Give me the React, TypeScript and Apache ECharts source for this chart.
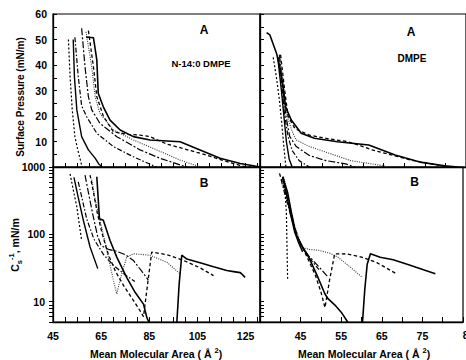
import React, { useEffect, useRef } from "react";
import * as echarts from "echarts";

// ---------- Panel A (surface pressure, mN/m) : N-14:0 DMPE ----------
const pressN14_1 = [[51.4,50],[52.1,35.4],[53.0,22.4],[54.1,11.9],[55.3,6.7],[56.2,3.4],[57.1,0]];
const pressN14_2 = [[53.4,50],[53.9,35.4],[54.9,22.4],[56.9,11.9],[59.7,6.7],[62.5,3.5],[64,1.2],[65.5,0]];
const pressN14_3 = [[54.1,50.9],[55.5,35.4],[56.9,24],[59,19.7],[63.2,13.2],[70.1,8],[78.4,4],[86.7,0.5],[88,0]];
const pressN14_4 = [[56.9,54.4],[58.3,39.3],[59.7,27.6],[61.1,22.4],[64.5,17.1],[71.5,11.9],[81.2,6.7],[89.5,3.4],[99.2,0.4],[101,0]];
const pressN14_5 = [[58.7,53],[61.1,39.3],[62.5,27.6],[64.5,21],[70.1,14.5],[78.4,10.6],[88.1,6.7],[97.8,2.7],[104.8,0.5],[107,0]];
const pressN14_6 = [[59.7,53.5],[61.8,39.3],[63.2,27.6],[65.9,20],[70.1,13.8],[76,12.8],[81.2,12.5],[85.3,11.9],[92.3,9],[106.1,5.4],[119.8,1.4],[124,0.3],[127,0]];
const pressN14_7 = [[58.7,51],[61.8,50.7],[63.2,42],[63.8,28.9],[65.9,23.6],[68.7,18.4],[72.9,14.5],[78.4,11.9],[85.3,10.6],[97.8,9.9],[106.1,6.7],[114.4,3.4],[122.8,1.4],[128.2,0.5],[131,0]];

// ---------- Panel A : DMPE ----------
const pressDMPE_1 = [[38.2,43],[39,35],[39.8,25],[40.4,15],[40.9,6],[41.3,0]];
const pressDMPE_2 = [[39.3,43],[40.2,30],[40.8,20],[41.4,10],[42.1,3],[42.8,0]];
const pressDMPE_3 = [[39.5,43],[40.4,30],[41,20],[41.8,12],[42.8,6.5],[44.5,2.5],[47,0]];
const pressDMPE_4 = [[39.7,44],[40.6,30],[41.3,20],[42.2,12],[43.8,8],[47,4.5],[51,2.5],[55.8,1.2],[58,0]];
const pressDMPE_5 = [[39.8,44],[40.8,30],[41.6,20],[42.8,14],[43.8,10.6],[47,8],[51.8,5.4],[57,2.5],[63.8,0.8],[66,0]];
const pressDMPE_6 = [[40,44],[41,30],[41.8,20],[43.5,15],[47,12.5],[51.8,11],[56,10],[59,8.6],[62.2,6.7],[71.7,2.7],[80,0.2],[82,0]];
const pressDMPE_7 = [[36.6,52.7],[37.4,51.8],[39,44.6],[39.8,39.3],[40.6,31.5],[41.2,23.6],[42.6,18.4],[45,13.2],[48.2,11.3],[53.8,9.9],[61.4,8.6],[67.8,4.7],[74.2,1.8],[79.8,0.5],[83,0]];

// ---------- Panel B (Cs^-1, mN/m, log) : N-14:0 DMPE ----------
const compN14_1 = [[52.1,790],[53.3,480],[54.9,255],[56.9,81]];
const compN14_2 = [[53.7,700],[55.5,350],[57.6,162],[60.4,65],[63.6,31]];
const compN14_3 = [[55.5,600],[57,350],[59,170],[62,85],[66,50],[70,35],[75,25],[79,20]];
const compN14_4 = [[58.3,760],[59.7,420],[61.5,200],[63.5,95],[65,68],[68,60],[71.5,56],[75,50],[78.4,41],[82,28],[84.6,21]];
const compN14_5 = [[61.1,650],[62.5,330],[64.5,162],[66.5,80],[68.7,35],[70.5,18],[71.5,13],[73,22],[75.6,46],[78.4,51.5],[85.3,49],[92.3,38.6],[97.8,25.9]];
const compN14_6 = [[60.4,760],[61.8,420],[63.5,200],[65.5,100],[68,50],[71,28],[74.5,17],[78,11],[81,7.5],[82.6,6],[84,15],[86,54.5],[92.3,50],[99.2,41],[106,32],[111.7,24.4]];
const compN14_7a = [[63.2,716],[64.3,171],[65.9,162],[68.7,81],[71.5,46],[75.6,23],[79.1,13.8],[82.6,9.2],[84,5.8],[85.3,4.6]];
const compN14_7b = [[96.4,4.6],[97.4,18],[98.5,49],[100.6,43],[106.1,38],[111.7,33],[117.2,29],[120,28],[122.8,27],[123.8,25],[124.8,23]];

// ---------- Panel B : DMPE ----------
const compDMPE_1 = [[40.9,620],[41.2,400],[41.5,204],[41.8,22]];
const compDMPE_2 = [[40.6,716],[41.5,400],[42.5,200],[43.5,110],[44.5,75],[45.5,55]];
const compDMPE_3 = [[40.2,650],[41.2,380],[42.5,200],[44,100],[45.5,62],[47.5,42],[49.5,30]];
const compDMPE_4 = [[40.5,700],[41.8,350],[43.5,130],[45,70],[47,48],[49.5,33],[51.8,23]];
const compDMPE_5 = [[40.8,720],[42.2,300],[43.6,130],[45.4,64],[47,60],[49.4,58],[52,53],[54.2,46],[57.4,32],[60.2,23]];
const compDMPE_6 = [[39.8,805],[41.5,380],[43.8,100],[46,55],[48.6,25],[50,14],[51,8.2],[52.2,22],[53.4,51.5],[56.6,51],[60,46],[63.8,38],[68.6,26]];
const compDMPE_7a = [[40.6,716],[41.8,420],[42.8,200],[43.8,102],[45.5,65],[47,46],[49,25],[51,13],[51.8,11],[53.4,9],[55,7],[56.6,5],[57.3,4.5]];
const compDMPE_7b = [[60.2,4.5],[60.8,15],[61.4,36],[62.2,51.5],[64.6,45.7],[67.8,42],[71.8,35],[75.8,29],[78.2,26]];

// ---------- axis ticks / labels ----------
const xLabelsN14 = [45, 65, 85, 105, 125];
const xLabelsDMPE = [45, 55, 65, 75];
const xLabelDMPEEdge = "85";
const yLabelsLog = [10, 100, 1000];
const logMinorTicks = [5, 6, 7, 8, 9, 10, 20, 30, 40, 50, 60, 70, 80, 90, 100, 200, 300, 400, 500, 600, 700, 800, 900, 1000];

const FONT = '"Liberation Sans", Arial, Helvetica, sans-serif';

const STYLES: any[] = [
  { type: [2, 2], width: 1.2, color: "#000" },
  { type: "solid", width: 1.4, color: "#000" },
  { type: [5, 2, 1.5, 2], width: 1.2, color: "#000" },
  { type: [7, 2, 2, 2], width: 1.2, color: "#000" },
  { type: [1, 1.3], width: 1.1, color: "#333" },
  { type: [3.5, 2.5], width: 1.3, color: "#000" },
  { type: "solid", width: 1.6, color: "#000" },
];

function mk(data: number[][], styleIdx: number, axis: number) {
  return {
    type: "line",
    xAxisIndex: axis,
    yAxisIndex: axis,
    data,
    showSymbol: false,
    symbol: "none",
    clip: true,
    silent: true,
    lineStyle: STYLES[styleIdx],
  };
}

const labelStyle = { fontFamily: FONT, fontWeight: "bold", fontSize: 10.5, color: "#000" };
const axisLineStyle = { show: true, lineStyle: { color: "#000", width: 1.3 } };

export default function App() {
  const ref = useRef<HTMLDivElement>(null);
  useEffect(() => {
    if (!ref.current) return;
    const chart = echarts.init(ref.current, null, { renderer: "svg" });
    const gridBase = { show: true, borderColor: "#000", borderWidth: 1.2, backgroundColor: "transparent" };
    const option: any = {
      animation: false,
      backgroundColor: "#fff",
      grid: [
        { ...gridBase, left: 53, top: 14, width: 207, height: 153 },
        { ...gridBase, left: 260, top: 14, width: 208, height: 153 },
        { ...gridBase, left: 53, top: 167, width: 207, height: 155 },
        { ...gridBase, left: 260, top: 167, width: 208, height: 155 },
      ],
      xAxis: [
        {
          type: "value", gridIndex: 0, min: 45, max: 131, interval: 5,
          axisLine: axisLineStyle, splitLine: { show: false },
          axisTick: { show: true, inside: true, length: 4, lineStyle: { color: "#000" } },
          axisLabel: { show: false },
        },
        {
          type: "value", gridIndex: 1, min: 35, max: 85, interval: 5,
          axisLine: axisLineStyle, splitLine: { show: false },
          axisTick: { show: true, inside: true, length: 4, lineStyle: { color: "#000" } },
          axisLabel: { show: false },
        },
        {
          type: "value", gridIndex: 2, min: 45, max: 131, interval: 5,
          axisLine: axisLineStyle, splitLine: { show: false },
          axisTick: { show: true, inside: true, length: 5, lineStyle: { color: "#000" } },
          axisLabel: {
            ...labelStyle, margin: 8,
            formatter: (v: number) => (xLabelsN14.indexOf(Math.round(v)) >= 0 ? String(Math.round(v)) : ""),
          },
        },
        {
          type: "value", gridIndex: 3, min: 35, max: 85, interval: 5,
          axisLine: axisLineStyle, splitLine: { show: false },
          axisTick: { show: true, inside: true, length: 5, lineStyle: { color: "#000" } },
          axisLabel: {
            ...labelStyle, margin: 8,
            formatter: (v: number) => (xLabelsDMPE.indexOf(Math.round(v)) >= 0 ? String(Math.round(v)) : ""),
          },
        },
      ],
      yAxis: [
        {
          type: "value", gridIndex: 0, min: 0, max: 60, interval: 10,
          axisLine: axisLineStyle, splitLine: { show: false },
          axisTick: { show: true, inside: true, length: 4, lineStyle: { color: "#000" } },
          minorTick: { show: true, splitNumber: 2, length: 4, lineStyle: { color: "#000" } },
          axisLabel: { ...labelStyle, margin: 6, formatter: (v: number) => (v === 0 ? "" : String(v)) },
        },
        {
          type: "value", gridIndex: 1, min: 0, max: 60, interval: 5,
          axisLine: axisLineStyle, splitLine: { show: false },
          axisTick: { show: true, inside: true, length: 4, lineStyle: { color: "#000" } },
          axisLabel: { show: false },
        },
        {
          type: "log", logBase: 10, gridIndex: 2, min: 5, max: 1000,
          axisLine: axisLineStyle, splitLine: { show: false },
          axisTick: { show: true, inside: false, length: 4, customValues: logMinorTicks, lineStyle: { color: "#000" } },
          axisLabel: {
            ...labelStyle, margin: 8, customValues: yLabelsLog,
            formatter: (v: number) => (yLabelsLog.indexOf(Math.round(v)) >= 0 ? String(Math.round(v)) : ""),
          },
        },
        {
          type: "log", logBase: 10, gridIndex: 3, min: 5, max: 1000,
          axisLine: axisLineStyle, splitLine: { show: false },
          axisTick: { show: true, inside: true, length: 4, customValues: logMinorTicks, lineStyle: { color: "#000" } },
          axisLabel: { show: false },
        },
      ],
      series: [
        mk(pressN14_1, 0, 0), mk(pressN14_2, 1, 0), mk(pressN14_3, 2, 0), mk(pressN14_4, 3, 0),
        mk(pressN14_5, 4, 0), mk(pressN14_6, 5, 0), mk(pressN14_7, 6, 0),
        mk(pressDMPE_1, 0, 1), mk(pressDMPE_2, 1, 1), mk(pressDMPE_3, 2, 1), mk(pressDMPE_4, 3, 1),
        mk(pressDMPE_5, 4, 1), mk(pressDMPE_6, 5, 1), mk(pressDMPE_7, 6, 1),
        mk(compN14_1, 0, 2), mk(compN14_2, 1, 2), mk(compN14_3, 2, 2), mk(compN14_4, 3, 2),
        mk(compN14_5, 4, 2), mk(compN14_6, 5, 2), mk(compN14_7a, 6, 2), mk(compN14_7b, 6, 2),
        mk(compDMPE_1, 0, 3), mk(compDMPE_2, 1, 3), mk(compDMPE_3, 2, 3), mk(compDMPE_4, 3, 3),
        mk(compDMPE_5, 4, 3), mk(compDMPE_6, 5, 3), mk(compDMPE_7a, 6, 3), mk(compDMPE_7b, 6, 3),
      ],
      graphic: [
        { type: "text", x: 204, y: 29.5, style: { text: "A", font: `bold 12px ${FONT}`, fill: "#000", align: "center", verticalAlign: "middle" } },
        { type: "text", x: 201, y: 63, style: { text: "N-14:0 DMPE", font: `bold 9.5px ${FONT}`, fill: "#000", align: "center", verticalAlign: "middle" } },
        { type: "text", x: 411, y: 32, style: { text: "A", font: `bold 12px ${FONT}`, fill: "#000", align: "center", verticalAlign: "middle" } },
        { type: "text", x: 412, y: 58, style: { text: "DMPE", font: `bold 10px ${FONT}`, fill: "#000", align: "center", verticalAlign: "middle" } },
        { type: "text", x: 204, y: 183, style: { text: "B", font: `bold 12px ${FONT}`, fill: "#000", align: "center", verticalAlign: "middle" } },
        { type: "text", x: 414.5, y: 181.5, style: { text: "B", font: `bold 12px ${FONT}`, fill: "#000", align: "center", verticalAlign: "middle" } },
        { type: "text", x: 468.5, y: 334.5, style: { text: xLabelDMPEEdge, font: `bold 10.5px ${FONT}`, fill: "#000", align: "center", verticalAlign: "middle" } },
        {
          type: "text", x: 20, y: 97, rotation: Math.PI / 2,
          style: { text: "Surface Pressure (mN/m)", font: `bold 10px ${FONT}`, fill: "#000", align: "center", verticalAlign: "middle" },
        },
        {
          type: "text", x: 15, y: 245, rotation: Math.PI / 2,
          style: {
            text: "{m|C}{sub|s}{sup|-1}{m|, mN/m}", align: "center", verticalAlign: "middle", fill: "#000",
            rich: {
              m: { fontFamily: FONT, fontWeight: "bold", fontSize: 10.5, lineHeight: 16, fill: "#000" },
              sub: { fontFamily: FONT, fontWeight: "bold", fontSize: 7.5, verticalAlign: "bottom", fill: "#000" },
              sup: { fontFamily: FONT, fontWeight: "bold", fontSize: 7.5, verticalAlign: "top", fill: "#000" },
            },
          },
        },
        {
          type: "text", x: 156, y: 354,
          style: {
            text: "{m|Mean Molecular Area ( Å }{sup|2}{m|)}", align: "center", verticalAlign: "middle", fill: "#000",
            rich: {
              m: { fontFamily: FONT, fontWeight: "bold", fontSize: 10.5, lineHeight: 16, fill: "#000" },
              sup: { fontFamily: FONT, fontWeight: "bold", fontSize: 7.5, verticalAlign: "top", fill: "#000" },
            },
          },
        },
        {
          type: "text", x: 364, y: 354,
          style: {
            text: "{m|Mean Molecular Area ( Å }{sup|2}{m|)}", align: "center", verticalAlign: "middle", fill: "#000",
            rich: {
              m: { fontFamily: FONT, fontWeight: "bold", fontSize: 10.5, lineHeight: 16, fill: "#000" },
              sup: { fontFamily: FONT, fontWeight: "bold", fontSize: 7.5, verticalAlign: "top", fill: "#000" },
            },
          },
        },
      ],
    };
    chart.setOption(option);
    return () => chart.dispose();
  }, []);
  return (
    <div
      ref={ref}
      style={{ position: "fixed", left: 0, top: 0, width: 466, height: 360, background: "#fff" }}
    />
  );
}
